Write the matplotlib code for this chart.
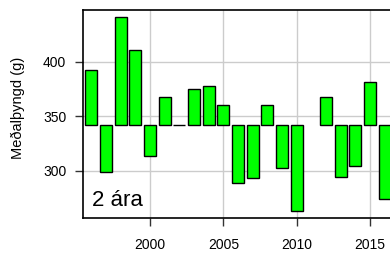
import numpy as np
import matplotlib
matplotlib.use("Agg")
import matplotlib.pyplot as plt

plt.rcParams['font.family'] = ['Liberation Sans', 'DejaVu Sans']

# Mean weight of 2-year-olds by year (no value for 2011)
years = [1996, 1997, 1998, 1999, 2000, 2001, 2002, 2003, 2004, 2005, 2006,
         2007, 2008, 2009, 2010, 2012, 2013, 2014, 2015, 2016]
weights = [392, 299, 441, 411, 313, 368, 342.3, 375, 378, 360, 289,
           293, 360, 302, 263, 368, 294, 304, 381, 274]
mean_weight = 341.5

fig = plt.figure(figsize=(3.9, 2.57), dpi=100)
ax = fig.add_axes([0.2128, 0.1506, 0.830, 0.8105])

heights = np.array(weights) - mean_weight
ax.bar(years, heights, bottom=mean_weight, width=0.8,
       color='#00ff00', edgecolor='black', linewidth=1.0, zorder=3)

ax.set_xlim(1995.43, 2017.5)
ax.set_ylim(256.3, 447.4)
ax.set_xticks([2000, 2005, 2010, 2015])
ax.set_yticks([300, 350, 400])
ax.grid(True, color='#cccccc', linewidth=1.0, zorder=0)

ax.tick_params(axis='both', direction='out', length=6, width=1.0,
               labelsize=10, color='#333333')
ax.tick_params(axis='x', pad=8)
ax.tick_params(axis='y', pad=6)

for s in ax.spines.values():
    s.set_linewidth(1.2)

ax.set_ylabel('Meðalþyngd (g)', fontsize=10.5)
ax.yaxis.set_label_coords(-0.18, 0.53)
ax.text(0.027, 0.06, '2 ára', transform=ax.transAxes, fontsize=16,
        ha='left', va='baseline', zorder=4)

fig.savefig('out.png', dpi=100)
